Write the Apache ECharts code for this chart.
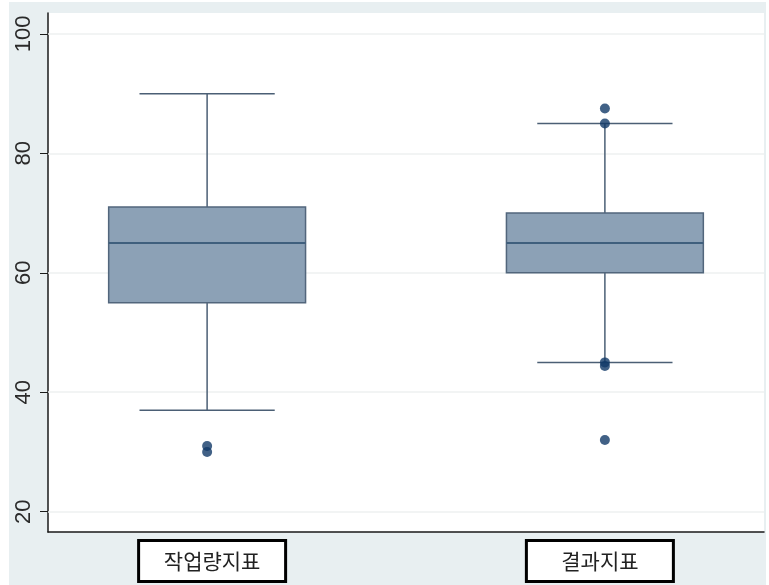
<!DOCTYPE html>
<html>
<head>
<meta charset="utf-8">
<script src="https://cdn.jsdelivr.net/npm/echarts@6/dist/echarts.min.js"></script>
<style>
  html, body { margin: 0; padding: 0; background: #ffffff; }
  #chart { position: absolute; left: 9px; top: 2px; width: 757px; height: 583px; }
</style>
</head>
<body>
<div id="chart"></div>
<script>
// Group names and box-plot summary statistics
const categories = ['작업량지표', '결과지표'];
const lowerWhisker = [37, 45];
const q1 = [55, 60];
const median = [65, 65];
const q3 = [71, 70];
const upperWhisker = [90, 85];
// Points beyond the whiskers, per group
const outliers = [
  [30, 31],
  [32, 44.4, 45, 85, 87.5]
];
const yTicks = [20, 40, 60, 80, 100];

const BOX_HALF = 0.2475;   // half box width in x units
const CAP_HALF = 0.17;     // half whisker-cap width in x units

const boxData = categories.map((c, i) => [i + 1, lowerWhisker[i], q1[i], median[i], q3[i], upperWhisker[i]]);
const outlierData = [];
outliers.forEach((vals, i) => vals.forEach(v => outlierData.push([i + 1, v])));

function renderBox(params, api) {
  const x = api.value(0);
  const lo = api.value(1), b1 = api.value(2), md = api.value(3), b3 = api.value(4), hi = api.value(5);
  const pL = api.coord([x - BOX_HALF, b3]);
  const pR = api.coord([x + BOX_HALF, b1]);
  const pMedL = api.coord([x - BOX_HALF, md]);
  const pMedR = api.coord([x + BOX_HALF, md]);
  const pHi = api.coord([x, hi]);
  const pLo = api.coord([x, lo]);
  const pTop = api.coord([x, b3]);
  const pBot = api.coord([x, b1]);
  const capL = api.coord([x - CAP_HALF, hi])[0];
  const capR = api.coord([x + CAP_HALF, hi])[0];
  const whisk = { stroke: '#4b5f75', lineWidth: 1.5 };
  return {
    type: 'group',
    children: [
      { type: 'line', shape: { x1: pHi[0], y1: pHi[1], x2: pTop[0], y2: pTop[1] }, style: whisk },
      { type: 'line', shape: { x1: pBot[0], y1: pBot[1], x2: pLo[0], y2: pLo[1] }, style: whisk },
      { type: 'line', shape: { x1: capL, y1: pHi[1], x2: capR, y2: pHi[1] }, style: whisk },
      { type: 'line', shape: { x1: capL, y1: pLo[1], x2: capR, y2: pLo[1] }, style: whisk },
      { type: 'rect', shape: { x: pL[0], y: pL[1], width: pR[0] - pL[0], height: pR[1] - pL[1] },
        style: { fill: '#8ca1b6', stroke: '#52667c', lineWidth: 1.5 } },
      { type: 'line', shape: { x1: pMedL[0], y1: pMedL[1], x2: pMedR[0], y2: pMedR[1] },
        style: { stroke: '#3f5f7d', lineWidth: 2 } }
    ]
  };
}

// Category captions are boxed; a small transparent spacer nudges each box toward the centre
function categoryLabel(v) {
  const i = Math.round(v) - 1;
  const name = categories[i];
  if (name == null) return '';
  return i === 0 ? '{s|}{t|' + name + '}' : '{t|' + name + '}{s|}';
}

const chart = echarts.init(document.getElementById('chart'), null, { renderer: 'canvas' });
chart.setOption({
  backgroundColor: '#e8eff1',
  animation: false,
  grid: { left: 39, top: 11, right: 2, bottom: 53, show: true, backgroundColor: '#ffffff', borderWidth: 0 },
  xAxis: {
    type: 'value', min: 0.6, max: 2.4,
    axisLine: { show: true, onZero: false, lineStyle: { color: '#1a1a1a', width: 1.5 } },
    axisTick: { show: false },
    splitLine: { show: false },
    axisLabel: {
      customValues: categories.map((c, i) => i + 1),
      formatter: categoryLabel,
      margin: 10,
      rich: {
        s: { width: 10, height: 38 },
        t: {
          fontFamily: 'Noto Sans CJK KR',
          fontSize: 21,
          color: '#222',
          width: 144,
          height: 38,
          lineHeight: 38,
          align: 'center',
          backgroundColor: '#ffffff',
          borderColor: '#000000',
          borderWidth: 3
        }
      }
    }
  },
  yAxis: {
    type: 'value', min: 16.6, max: 103.5,
    axisLine: { show: true, onZero: false, lineStyle: { color: '#1a1a1a', width: 1.5 } },
    axisTick: { show: true, customValues: yTicks, length: 8, lineStyle: { color: '#1a1a1a', width: 1 } },
    splitLine: { show: false },
    axisLabel: {
      customValues: yTicks,
      rotate: 90,
      margin: 13,
      fontFamily: 'Liberation Sans',
      fontSize: 22,
      color: '#2a2a2a'
    }
  },
  series: [
    {
      // carries the horizontal grid lines beneath the boxes
      type: 'line',
      data: [],
      z: 1,
      silent: true,
      markLine: {
        z: 1,
        silent: true,
        symbol: 'none',
        label: { show: false },
        lineStyle: { color: '#eef1f1', width: 1.5, type: 'solid' },
        data: yTicks.map(v => ({ yAxis: v }))
      }
    },
    {
      type: 'custom',
      renderItem: renderBox,
      data: boxData,
      encode: { x: 0, y: [1, 2, 3, 4, 5] },
      z: 3
    },
    {
      type: 'scatter',
      data: outlierData,
      symbol: 'circle',
      symbolSize: 10,
      itemStyle: { color: '#123a68' },
      z: 4
    }
  ]
});
</script>
</body>
</html>
